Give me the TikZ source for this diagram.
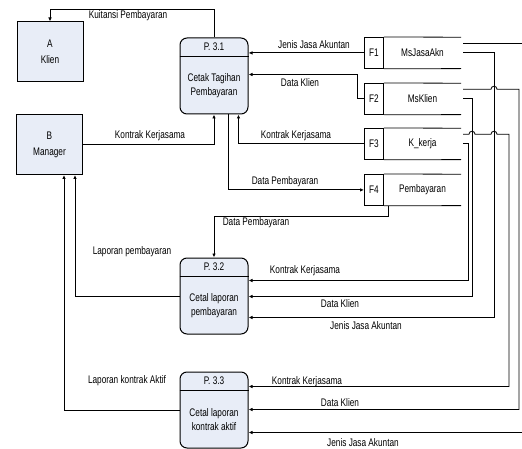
\documentclass[tikz,border=0pt]{standalone}
\usepackage{fontspec}
\setmainfont[FakeStretch=0.75]{Liberation Sans}
\usetikzlibrary{positioning,calc,arrows.meta}
\definecolor{boxfill}{HTML}{E8EDF7}
\tikzset{entity/.style={rectangle,draw,line width=1pt,fill=boxfill,minimum width=66pt,minimum height=60pt,align=center},
procbox/.style={rectangle,draw,line width=1pt,fill=boxfill,rounded corners=7pt,minimum width=68pt,minimum height=76pt},
storeid/.style={rectangle,draw,line width=0.8pt,minimum width=19pt,minimum height=31pt,inner sep=0pt,anchor=north west},
storename/.style={rectangle,minimum width=77pt,minimum height=31pt,inner sep=0pt},
flow/.style={line width=0.8pt,-{Latex[length=4pt,width=3.5pt]}},
wire/.style={line width=0.8pt},
lbl/.style={inner sep=0pt}}
\newcommand{\mkprocess}[4]{
\node[procbox] (#1) at (#2) {};
\draw[line width=1pt] ([yshift=-19pt]#1.north west) -- ([yshift=-19pt]#1.north east);
\node at ([yshift=-9.5pt]#1.north) {#3};
\node[align=center] at ([yshift=-9.5pt]#1.center) {#4};
}
\newcommand{\mkstore}[4]{
\node[storeid] (#1) at (#2) {#3};
\node[storename,right=0pt of #1] (#1-n) {#4};
\draw[line width=0.8pt] (#1.north east) -- (#1-n.north east) (#1.south east) -- (#1-n.south east);
\coordinate (#1-a) at ([xshift=2pt,yshift=-6pt]#1-n.north east);
\coordinate (#1-b) at ([xshift=2pt]#1-n.east);
}
\newcommand{\hop}[2]{-- ($(#1 -| #2)+(-3pt,0)$) arc[start angle=180,end angle=0,radius=3pt]}

\begin{document}
\begin{tikzpicture}[x=1pt,y=-1pt,font=\fontsize{11}{13}\selectfont]
    \useasboundingbox (0,0) rectangle (522,449);
    % entities
    \node[entity] (klien) at (50,52) {A\\[3pt]Klien};
    \node[entity] (manager) at (49.5,144.5) {B\\[3pt]Manager};
    % processes
    \mkprocess{p31}{214,76}{P. 3.1}{Cetak Tagihan\\[1pt]Pembayaran}
    \mkprocess{p32}{214,296}{P. 3.2}{Cetal laporan\\[1pt]pembayaran}
    \mkprocess{p33}{214,410}{P. 3.3}{Cetal laporan\\[1pt]kontrak aktif}
    % stores
    \mkstore{f1}{364,37}{F1}{MsJasaAkn}
    \mkstore{f2}{364,83}{F2}{MsKlien}
    \mkstore{f3}{364,128}{F3}{K\_kerja}
    \mkstore{f4}{364,174}{F4}{Pembayaran}
    % entry points
    \coordinate (p31-d) at ([yshift=-37pt]p31.north east);
    \coordinate (p31-k) at ([xshift=-10pt]p31.south east);
    \coordinate (p31-p) at ([xshift=-20pt]p31.south east);
    \coordinate (p32-k) at ([yshift=-23pt]p32.north east);
    \coordinate (p32-d) at ([yshift=-39pt]p32.north east);
    \coordinate (p32-j) at ([yshift=-60pt]p32.north east);
    \coordinate (p33-k) at ([yshift=-15pt]p33.north east);
    \coordinate (p33-d) at ([yshift=-38pt]p33.north east);
    \coordinate (p33-j) at ([yshift=-61pt]p33.north east);
    \coordinate (m-a) at ([xshift=25.5pt]manager.south);
    \coordinate (m-b) at ([xshift=14.5pt]manager.south);
    % columns on the right
    \coordinate (c1) at (468,0);
    \coordinate (c2) at (472,0);
    \coordinate (c3) at (494,0);
    \coordinate (c4) at (509,0);
    \coordinate (c5) at (519,0);
    \coordinate (edge) at (522,0);
    % links
    \draw[flow] (p31.north) |- ([yshift=12pt]klien.north) -- (klien.north);
    \draw[flow] (manager.east) -| (p31.south);
    \draw[flow] (f1.west) -- (f1.west -| p31.east);
    \draw[flow] (f2.west) -- ++(-7pt,0) |- (p31-d);
    \draw[flow] (f3.west) -| (p31-k);
    \draw[flow] (p31-p) |- (f4.west);
    \draw[flow] ([xshift=5pt]f4.south east) |- ([yshift=41pt]p32.north) -- (p32.north);
    \draw[flow] (p32.west) -| (m-a);
    \draw[flow] (p33.west) -| (m-b);
    \draw[wire] (f1-a) -- (f1-a -| edge);
    \draw[flow] (f3-b) -| (p32-k -| c1) -- (p32-k);
    \draw[flow] (f2-b) -| (p32-d -| c2) -- (p32-d);
    \draw[flow] (f1-b) -| (p32-j -| c3) -- (p32-j);
    \draw[flow] (f3-a) \hop{f3-a}{c2} \hop{f3-a}{c3} -| (p33-k -| c4) -- (p33-k);
    \draw[flow] (f2-a) \hop{f2-a}{c3} -| (p33-d -| c5) -- (p33-d);
    \draw[flow] (p33-j -| edge) -- (p33-j);
    % labels
    \node[lbl] at (128,16) {Kuitansi Pembayaran};
    \node[lbl] at (150,136) {Kontrak Kerjasama};
    \node[lbl] at (314,45) {Jenis Jasa Akuntan};
    \node[lbl] at (300,83) {Data Klien};
    \node[lbl] at (296,136) {Kontrak Kerjasama};
    \node[lbl] at (285,182) {Data Pembayaran};
    \node[lbl] at (256,223) {Data Pembayaran};
    \node[lbl] at (132,252) {Laporan pembayaran};
    \node[lbl] at (305,271) {Kontrak Kerjasama};
    \node[lbl] at (340,304) {Data Klien};
    \node[lbl] at (366,326) {Jenis Jasa Akuntan};
    \node[lbl] at (127,381) {Laporan kontrak Aktif};
    \node[lbl] at (307,382) {Kontrak Kerjasama};
    \node[lbl] at (340,403) {Data Klien};
    \node[lbl] at (363,443) {Jenis Jasa Akuntan};
\end{tikzpicture}
\end{document}
